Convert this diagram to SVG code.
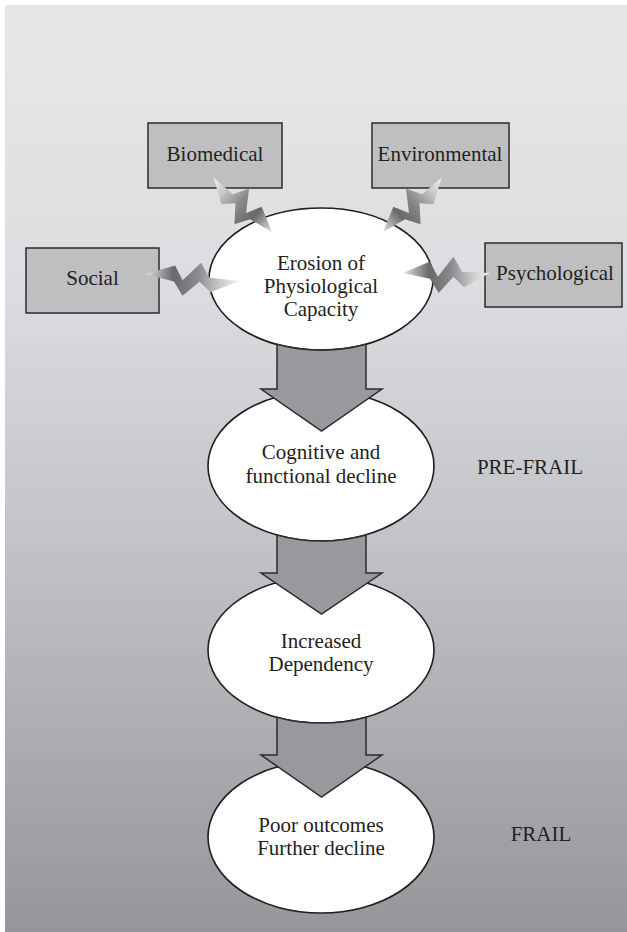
<svg xmlns="http://www.w3.org/2000/svg" width="627" height="932" viewBox="0 0 627 932" font-family="'Liberation Serif', 'DejaVu Serif', serif">
<defs>
<linearGradient id="bg" x1="0" y1="0" x2="0" y2="1">
<stop offset="0" stop-color="#e7e8e6"/>
<stop offset="0.3" stop-color="#dcdde0"/>
<stop offset="0.6" stop-color="#c0c1c4"/>
<stop offset="1" stop-color="#95969a"/>
</linearGradient>
<linearGradient id="bolt" x1="0" y1="0" x2="1" y2="0">
<stop offset="0" stop-color="#e2e2e2"/>
<stop offset="0.3" stop-color="#69696b"/>
<stop offset="0.55" stop-color="#8a8a8c"/>
<stop offset="0.8" stop-color="#cbcbcc"/>
<stop offset="1" stop-color="#f2f2f2"/>
</linearGradient>
<polygon id="boltShape" points="0,0 31,-12 40,4 58,-17 68,-1 100,0 70,15 58,4 41,21 31,6"/>
</defs>
<style>
.box{fill:#bfbfc1;stroke:#2b2b2b;stroke-width:1.5}
.ell{fill:#ffffff;stroke:#1e1e1e;stroke-width:1.6}
.arr{fill:#98999c;stroke:#2b2b2b;stroke-width:1.5;stroke-linejoin:miter}
.t{font-family:'Liberation Serif','DejaVu Serif',serif;font-size:21px;fill:#231f20;text-anchor:middle}
.bolt{fill:url(#bolt)}
</style>
<rect x="5" y="5" width="622" height="927" fill="url(#bg)"/>

<g id="biomedical"><rect class="box" x="148" y="123" width="134" height="65"/><text class="t" x="215" y="161">Biomedical</text></g>
<g id="environmental"><rect class="box" x="372" y="123" width="137" height="65"/><text class="t" x="440" y="161">Environmental</text></g>
<g id="social"><rect class="box" x="26" y="248" width="133" height="65"/><text class="t" x="92.5" y="285">Social</text></g>
<g id="psychological"><rect class="box" x="485" y="243" width="137" height="64"/><text class="t" x="555" y="280">Psychological</text></g>

<g id="erosion"><ellipse class="ell" cx="321" cy="279" rx="112" ry="71"/>
<text class="t" x="321" y="270">Erosion of</text><text class="t" x="321" y="293">Physiological</text><text class="t" x="321" y="316">Capacity</text></g>
<g id="cognitive"><ellipse class="ell" cx="321" cy="466" rx="113" ry="75"/>
<text class="t" x="321" y="459">Cognitive and</text><text class="t" x="321" y="483">functional decline</text></g>
<g id="dependency"><ellipse class="ell" cx="321" cy="650" rx="113" ry="73"/>
<text class="t" x="321" y="648">Increased</text><text class="t" x="321" y="671">Dependency</text></g>
<g id="outcomes"><ellipse class="ell" cx="321" cy="837" rx="113" ry="76"/>
<text class="t" x="321" y="832">Poor outcomes</text><text class="t" x="321" y="855">Further decline</text></g>

<g id="prefrail"><text class="t" x="530" y="474">PRE-FRAIL</text></g>
<g id="frail"><text class="t" x="541" y="841">FRAIL</text></g>

<g id="connectors">
<use href="#boltShape" class="bolt" transform="translate(272,232) rotate(-137) scale(0.8,-0.95)"/>
<use href="#boltShape" class="bolt" transform="translate(383,232) rotate(-43) scale(0.8,0.95)"/>
<use href="#boltShape" class="bolt" transform="translate(145,274) rotate(4.2) scale(0.95,0.9)"/>
<use href="#boltShape" class="bolt" transform="translate(403,273) scale(0.87,0.95)"/>
<path class="arr" d="M277,344.3 A112,71 0 0 0 366,344.3 L366,389 L382,389 L321.5,431 L261,389 L277,389 Z"/>
<path class="arr" d="M277,535 A113,75 0 0 0 366,535 L366,573 L382,573 L321.5,614 L261,573 L277,573 Z"/>
<path class="arr" d="M277,717.2 A113,73 0 0 0 366,717.2 L366,755 L382,755 L321.5,797 L261,755 L277,755 Z"/>
</g>
</svg>
